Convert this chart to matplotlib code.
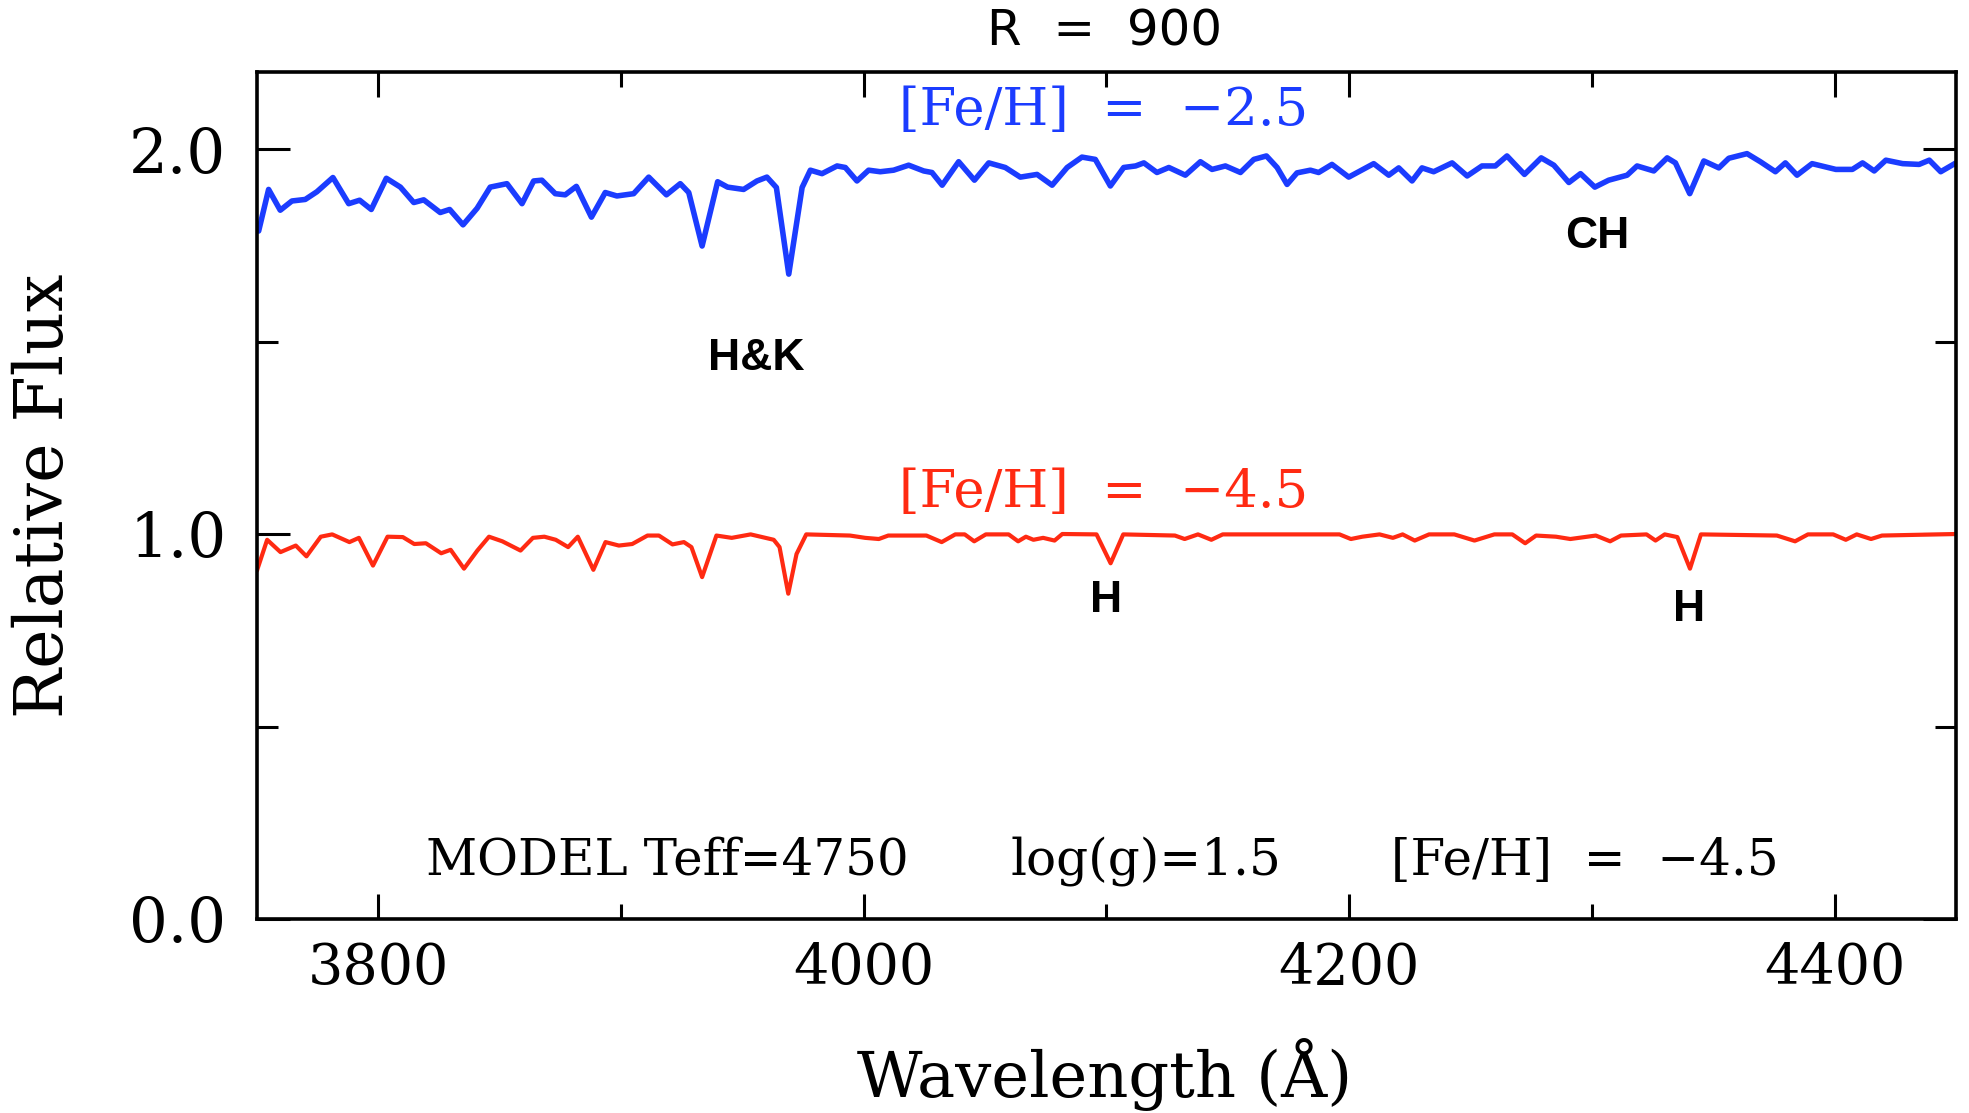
"""
Model spectrum comparison: Teff=4750, log(g)=1.5 at R = 900,
[Fe/H] = -2.5 (blue, offset by +1) and [Fe/H] = -4.5 (red).
"""
import matplotlib
matplotlib.use("Agg")
import matplotlib.pyplot as plt
from matplotlib.ticker import MultipleLocator

plt.rcParams['font.family'] = ['DejaVu Serif']

# [Fe/H] = -2.5 spectrum, shifted up by one unit
blue_wave = [3750.7, 3754.8, 3759.6, 3764.4, 3769.9, 3774.7, 3781.3, 3787.8, 3792.3, 3797.1,
             3803.3, 3809.1, 3814.6, 3818.7, 3825.5, 3829.4, 3834.9, 3840.7, 3846.1, 3853.0,
             3859.2, 3864.0, 3867.4, 3872.9, 3877.0, 3881.6, 3887.8, 3893.5, 3898.3, 3905.2,
             3911.4, 3918.7, 3924.4, 3927.9, 3933.4, 3939.8, 3943.9, 3950.5, 3956.0, 3960.1,
             3964.0, 3969.1, 3974.6, 3978.0, 3982.8, 3989.0, 3992.4, 3997.2, 4002.0, 4006.8,
             4012.3, 4018.5, 4024.7, 4028.1, 4032.3, 4039.1, 4045.6, 4051.5, 4058.3, 4064.5,
             4071.4, 4077.6, 4083.8, 4089.9, 4095.4, 4101.6, 4107.1, 4112.0, 4115.4, 4120.8,
             4125.7, 4132.5, 4138.7, 4143.5, 4149.0, 4155.2, 4160.7, 4165.9, 4170.3, 4174.4,
             4178.5, 4184.0, 4187.4, 4192.9, 4199.8, 4210.1, 4216.3, 4220.4, 4225.9, 4230.0,
             4234.8, 4242.4, 4248.6, 4254.7, 4260.2, 4265.0, 4272.2, 4279.1, 4284.3, 4290.5,
             4295.3, 4301.2, 4306.9, 4314.5, 4318.6, 4325.5, 4331.0, 4334.4, 4340.3, 4346.1,
             4352.3, 4356.4, 4363.9, 4369.4, 4375.6, 4379.7, 4384.5, 4390.7, 4400.5, 4407.3,
             4411.5, 4416.3, 4421.1, 4428.0, 4434.8, 4439.0, 4443.7, 4450.0]
blue_flux = [1.787, 1.895, 1.841, 1.865, 1.869, 1.889, 1.926, 1.858, 1.867, 1.843,
             1.924, 1.901, 1.861, 1.868, 1.835, 1.843, 1.803, 1.846, 1.901, 1.910,
             1.858, 1.917, 1.919, 1.884, 1.881, 1.903, 1.823, 1.887, 1.878, 1.884,
             1.927, 1.881, 1.910, 1.887, 1.748, 1.915, 1.901, 1.895, 1.917, 1.927,
             1.900, 1.675, 1.900, 1.945, 1.936, 1.956, 1.952, 1.917, 1.945, 1.941,
             1.945, 1.958, 1.943, 1.939, 1.906, 1.967, 1.919, 1.964, 1.952, 1.927,
             1.934, 1.906, 1.952, 1.979, 1.973, 1.904, 1.952, 1.956, 1.964, 1.939,
             1.952, 1.932, 1.967, 1.947, 1.956, 1.939, 1.973, 1.982, 1.952, 1.908,
             1.938, 1.945, 1.939, 1.960, 1.927, 1.962, 1.932, 1.951, 1.917, 1.951,
             1.941, 1.964, 1.930, 1.956, 1.956, 1.982, 1.934, 1.977, 1.958, 1.913,
             1.936, 1.901, 1.919, 1.932, 1.956, 1.943, 1.977, 1.964, 1.884, 1.969,
             1.951, 1.976, 1.988, 1.967, 1.941, 1.964, 1.932, 1.962, 1.947, 1.947,
             1.964, 1.943, 1.971, 1.962, 1.960, 1.971, 1.941, 1.964]

# [Fe/H] = -4.5 spectrum
red_wave = [3750.0, 3754.2, 3759.7, 3766.0, 3770.4, 3776.3, 3781.0, 3788.1, 3792.0, 3797.8,
            3803.8, 3810.1, 3814.8, 3819.6, 3825.9, 3829.8, 3835.3, 3840.8, 3845.6, 3851.1,
            3858.6, 3863.7, 3868.4, 3873.1, 3878.2, 3882.2, 3888.6, 3893.6, 3899.1, 3904.6,
            3910.9, 3915.6, 3921.2, 3925.9, 3929.0, 3933.4, 3939.3, 3945.6, 3953.4, 3962.9,
            3965.3, 3968.9, 3972.3, 3976.3, 3994.3, 4000.6, 4006.2, 4010.1, 4025.8, 4032.1,
            4037.7, 4041.6, 4045.5, 4050.3, 4059.7, 4063.6, 4066.8, 4069.9, 4073.9, 4078.6,
            4081.8, 4095.9, 4101.7, 4106.9, 4128.2, 4132.2, 4137.7, 4143.2, 4147.9, 4196.0,
            4200.7, 4205.4, 4212.5, 4218.0, 4222.0, 4227.0, 4232.9, 4243.3, 4251.6, 4259.8,
            4267.2, 4272.5, 4277.0, 4285.2, 4291.1, 4301.6, 4307.5, 4312.0, 4322.5, 4326.2,
            4330.0, 4335.2, 4340.4, 4344.9, 4376.2, 4383.7, 4389.0, 4399.4, 4404.6, 4409.1,
            4415.0, 4419.5, 4450.0]
red_flux = [0.905, 0.985, 0.953, 0.970, 0.942, 0.993, 0.999, 0.979, 0.990, 0.918,
            0.993, 0.992, 0.974, 0.976, 0.950, 0.959, 0.910, 0.957, 0.993, 0.981,
            0.957, 0.990, 0.993, 0.985, 0.966, 0.993, 0.907, 0.979, 0.970, 0.974,
            0.996, 0.996, 0.973, 0.979, 0.966, 0.888, 0.996, 0.990, 0.999, 0.985,
            0.966, 0.845, 0.948, 0.999, 0.996, 0.990, 0.987, 0.996, 0.996, 0.979,
            0.999, 0.999, 0.981, 0.999, 0.999, 0.981, 0.993, 0.985, 0.990, 0.983,
            1.000, 0.999, 0.924, 0.999, 0.996, 0.987, 0.999, 0.985, 0.999, 0.999,
            0.987, 0.993, 0.999, 0.990, 0.999, 0.983, 0.999, 0.999, 0.983, 0.999,
            0.999, 0.976, 0.996, 0.993, 0.987, 0.996, 0.981, 0.996, 0.999, 0.983,
            0.999, 0.992, 0.910, 0.999, 0.996, 0.981, 0.999, 0.999, 0.985, 0.999,
            0.987, 0.996, 1.000]

xticks = [3800, 4000, 4200, 4400]
yticks = [0.0, 1.0, 2.0]
ytick_labels = ['0.0', '1.0', '2.0']

blue = '#1b3cff'
red = '#ff2a12'

fig = plt.figure(figsize=(19.69, 11.13), dpi=100)
ax = fig.add_axes([0.1305, 0.1743, 0.8629, 0.7610])

ax.plot(blue_wave, blue_flux, color=blue, lw=4.0,
        solid_joinstyle='round', solid_capstyle='round')
ax.plot(red_wave, red_flux, color=red, lw=3.0,
        solid_joinstyle='round', solid_capstyle='round')

ax.set_xlim(3750, 4450)
ax.set_ylim(0, 2.2)
ax.set_xticks(xticks)
ax.xaxis.set_minor_locator(MultipleLocator(100))
ax.set_yticks(yticks)
ax.set_yticklabels(ytick_labels)
ax.yaxis.set_minor_locator(MultipleLocator(0.5))

for s in ax.spines.values():
    s.set_linewidth(2.6)
ax.tick_params(which='both', direction='in', top=True, right=True, width=2.2)
ax.tick_params(axis='y', which='major', length=24, pad=22, labelsize=44)
ax.tick_params(axis='y', which='minor', length=15)
ax.tick_params(axis='x', which='major', length=18, pad=16, labelsize=40)
ax.tick_params(axis='x', which='minor', length=11)

ax.set_xlabel('Wavelength (Å)', fontsize=46, va='center')
ax.xaxis.set_label_coords(0.4991, -0.183)
ax.set_ylabel('Relative Flux', fontsize=48, va='center')
ax.yaxis.set_label_coords(-0.1254, 0.4994)

ax.text(0.4991, 1.048, 'R  =  900', transform=ax.transAxes, ha='center', va='center',
        fontsize=36, family='DejaVu Sans')

ax.text(4099, 2.10, '[Fe/H]  =  −2.5', color=blue, ha='center', va='center', fontsize=38)
ax.text(4099, 1.108, '[Fe/H]  =  −4.5', color=red, ha='center', va='center', fontsize=38)

lab = dict(ha='center', va='center', fontsize=32, weight='bold', family='Liberation Sans')
ax.text(3955.6, 1.455, 'H&K', **lab)
ax.text(4302, 1.772, 'CH', **lab)
ax.text(4100, 0.827, 'H', **lab)
ax.text(4340, 0.804, 'H', **lab)

ax.text(3918.9, 0.150, 'MODEL Teff=4750', ha='center', va='center', fontsize=36)
ax.text(4116.3, 0.150, 'log(g)=1.5', ha='center', va='center', fontsize=36)
ax.text(4297.2, 0.150, '[Fe/H]  =  −4.5', ha='center', va='center', fontsize=36)

fig.savefig('out.png', dpi=100)
